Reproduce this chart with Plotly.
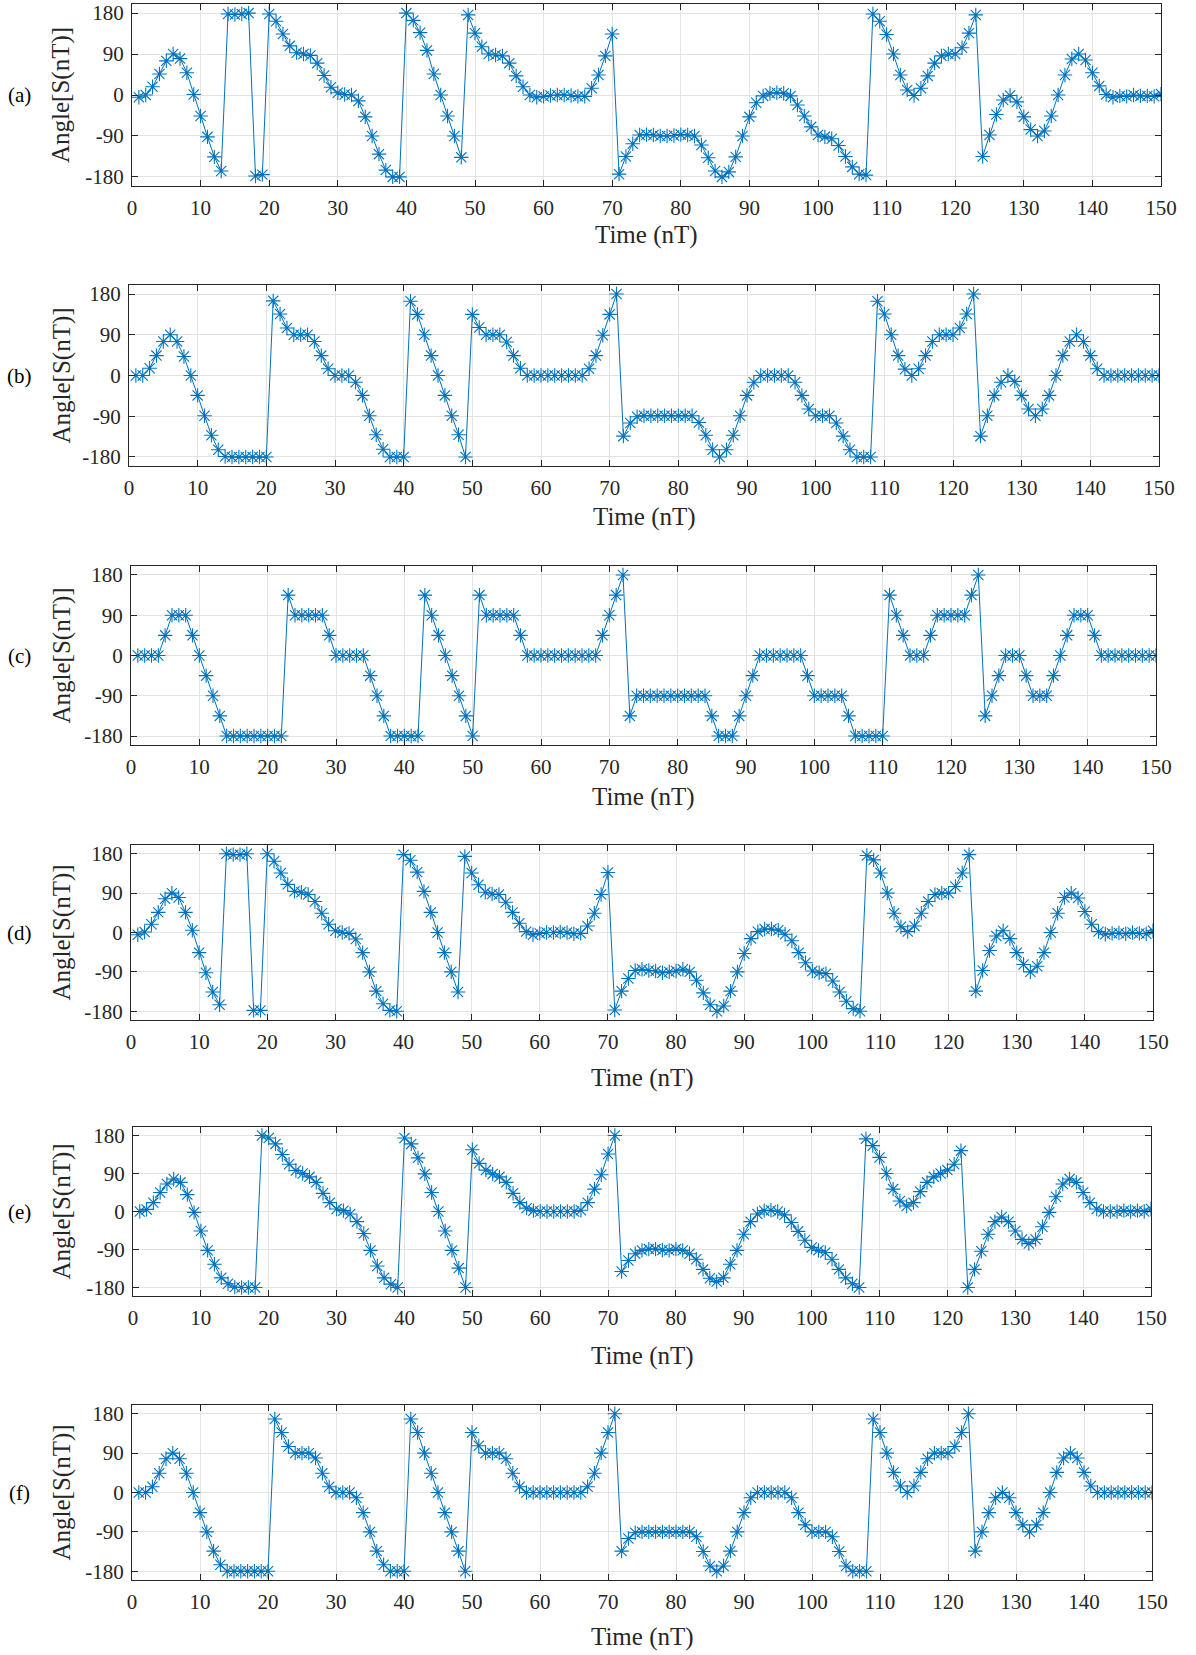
import plotly.graph_objects as go

# Sample index n = 1 .. 150
n = list(range(1, 151))

# Phase angle (degrees) of S(nT) for each case
angle_a = [
    -5, 0, 18, 46, 75, 90, 80, 49, 1, -46, -92, -136, -167, 178, 177, 178, 180, -178, -175, 178,
    162, 134, 108, 93, 90, 87, 70, 43, 17, 5, 1, 0, -13, -48, -90, -130, -165, -180, -180, 180,
    164, 137, 98, 46, 0, -46, -90, -137, 176, 136, 106, 90, 88, 86, 70, 42, 18, 0, -5, -3,
    -1, 0, 0, -1, -3, -3, 15, 44, 86, 134, -174, -135, -107, -88, -87, -88, -90, -90, -89, -87,
    -88, -90, -110, -138, -167, -180, -169, -136, -90, -48, -17, -2, 4, 5, 4, -2, -22, -46, -70, -88,
    -92, -96, -111, -135, -158, -174, -176, 178, 162, 133, 90, 44, 11, -1, 15, 42, 70, 86, 90, 90,
    104, 136, 176, -135, -88, -43, -11, -1, -15, -48, -76, -90, -79, -46, 0, 44, 79, 90, 77, 49,
    20, 1, -5, -2, -3, 0, -2, -2, -3, 2,
]

angle_b = [
    0, 0, 16, 44, 75, 90, 75, 42, 0, -44, -89, -132, -164, -179, -180, -180, -180, -180, -180, -180,
    165, 136, 105, 90, 90, 90, 75, 44, 15, 0, 0, 0, -15, -44, -89, -131, -163, -180, -180, -180,
    164, 135, 90, 44, 0, -44, -89, -131, -180, 135, 106, 90, 90, 90, 74, 44, 16, 0, 0, 0,
    0, 0, 0, 0, 0, 0, 15, 44, 89, 135, 180, -134, -105, -91, -89, -89, -89, -89, -89, -89,
    -89, -89, -104, -132, -164, -180, -164, -132, -89, -44, -15, 0, 0, 0, 0, 0, -15, -44, -74, -89,
    -89, -89, -105, -134, -164, -180, -180, -180, 164, 136, 90, 44, 14, 0, 15, 44, 75, 90, 90, 90,
    105, 136, 180, -134, -89, -44, -15, 0, -13, -44, -74, -89, -74, -44, 0, 44, 75, 90, 75, 44,
    15, 0, 0, 0, 0, 0, 0, 0, 0, 0,
]

angle_c = [
    0, 0, 0, 0, 45, 90, 90, 90, 45, 0, -45, -90, -135, -180, -180, -180, -180, -180, -180, -180,
    -180, -180, 135, 90, 90, 90, 90, 90, 45, 0, 0, 0, 0, 0, -45, -90, -135, -180, -180, -180,
    -180, -180, 135, 90, 45, 0, -45, -90, -135, -180, 135, 90, 90, 90, 90, 90, 45, 0, 0, 0,
    0, 0, 0, 0, 0, 0, 0, 0, 45, 90, 135, 180, -135, -90, -90, -90, -90, -90, -90, -90,
    -90, -90, -90, -90, -135, -180, -180, -180, -135, -90, -45, 0, 0, 0, 0, 0, 0, 0, -45, -90,
    -90, -90, -90, -90, -135, -180, -180, -180, -180, -180, 135, 90, 45, 0, 0, 0, 45, 90, 90, 90,
    90, 90, 135, 180, -135, -90, -45, 0, 0, 0, -45, -90, -90, -90, -45, 0, 45, 90, 90, 90,
    45, 0, 0, 0, 0, 0, 0, 0, 0, 0,
]

angle_d = [
    -5, 1, 19, 46, 77, 90, 80, 46, 5, -46, -92, -136, -165, 180, 178, 178, 180, -178, -178, 180,
    163, 136, 110, 94, 92, 87, 71, 44, 19, 4, 0, -2, -15, -46, -90, -134, -163, -178, -180, 178,
    165, 138, 94, 46, 0, -46, -90, -136, 174, 136, 109, 92, 88, 87, 69, 46, 21, 2, -5, -2,
    0, 0, 1, 0, -3, -2, 15, 44, 87, 137, -177, -134, -105, -87, -84, -87, -88, -92, -90, -88,
    -84, -90, -109, -138, -165, -180, -168, -134, -90, -48, -14, 2, 8, 8, 5, -4, -19, -46, -69, -88,
    -92, -94, -111, -136, -157, -174, -180, 176, 166, 136, 90, 44, 13, 2, 15, 44, 71, 87, 90, 90,
    105, 136, 178, -134, -87, -41, -8, 4, -14, -46, -73, -90, -77, -46, 0, 44, 80, 90, 79, 48,
    19, 2, -4, -2, -1, -3, 0, -2, -3, 4,
]

angle_e = [
    0, 5, 21, 45, 65, 77, 69, 40, -2, -46, -92, -125, -157, -171, -179, -180, -180, -180, 180, 174,
    160, 135, 112, 97, 90, 82, 69, 43, 21, 6, 2, -6, -24, -52, -92, -129, -157, -172, -180, 174,
    160, 127, 89, 45, 0, -46, -92, -134, -180, 146, 114, 98, 89, 82, 69, 43, 21, 8, 2, 0,
    0, 0, 0, 0, 0, 3, 21, 53, 87, 136, 180, -142, -116, -100, -92, -89, -89, -91, -92, -89,
    -92, -100, -113, -137, -158, -166, -157, -125, -92, -54, -24, -6, 2, 3, 0, -8, -26, -47, -68, -85,
    -92, -97, -113, -137, -157, -171, -180, 172, 156, 128, 90, 53, 25, 13, 21, 47, 69, 82, 90, 98,
    112, 144, -180, -137, -94, -54, -24, -13, -24, -46, -66, -76, -66, -36, -2, 35, 65, 77, 69, 45,
    21, 6, 0, 0, 0, 2, 0, 2, 0, 6,
]

angle_f = [
    0, 0, 13, 44, 77, 90, 77, 44, 0, -46, -90, -134, -165, -180, -180, -180, -180, -180, -180, -180,
    168, 137, 105, 90, 90, 90, 79, 44, 13, 0, 0, 0, -12, -46, -90, -134, -165, -180, -180, -180,
    168, 137, 90, 44, 0, -46, -90, -134, -180, 137, 107, 90, 90, 90, 77, 44, 13, 0, 0, 0,
    0, 0, 0, 0, 0, 0, 13, 44, 90, 137, 180, -134, -105, -92, -90, -90, -90, -90, -90, -90,
    -90, -90, -101, -135, -168, -180, -168, -134, -90, -46, -12, 0, 0, 0, 0, 0, -12, -46, -74, -90,
    -90, -90, -101, -135, -168, -180, -180, -180, 168, 137, 90, 46, 15, 0, 15, 46, 77, 90, 90, 90,
    105, 137, 180, -134, -90, -46, -12, 0, -12, -46, -74, -90, -74, -46, 0, 46, 79, 90, 79, 46,
    15, 0, 0, 0, 0, 0, 0, 0, 0, 0,
]

panel_tags = ["(a)", "(b)", "(c)", "(d)", "(e)", "(f)"]
x_ticks = list(range(0, 151, 10))
y_ticks = [-180, -90, 0, 90, 180]
y_tick_text = ["-180", "-90", "0", "90", "180"]

W, H = 1196, 1655
# plot boxes in pixels: (left, right, top, bottom), plus y of the x-axis title
boxes = [
    (132, 1161, 4, 186, 235),
    (129, 1159, 285, 466, 517),
    (131, 1156, 566, 745, 797),
    (131, 1153, 845, 1020, 1078),
    (133, 1151, 1127, 1296, 1356),
    (132, 1152, 1405, 1580, 1637),
]

series = [angle_a, angle_b, angle_c, angle_d, angle_e, angle_f]

BLUE = "#0072BD"
INK = "#262626"
FONT = "Liberation Serif"

fig = go.Figure()
layout = dict(
    width=W, height=H, autosize=False,
    margin=dict(l=0, r=0, t=0, b=0, pad=0),
    paper_bgcolor="white", plot_bgcolor="white",
    showlegend=False,
    font=dict(family=FONT, color=INK, size=21),
)
annotations = []

for i, (vals, tag, box) in enumerate(zip(series, panel_tags, boxes)):
    k = "" if i == 0 else str(i + 1)
    left, right, top, bottom, xt = box
    fig.add_trace(go.Scatter(
        x=n, y=vals, xaxis="x" + k, yaxis="y" + k,
        mode="lines+markers",
        line=dict(color=BLUE, width=1),
        marker=dict(symbol="asterisk-open", size=12, color=BLUE,
                    line=dict(color=BLUE, width=1.1)),
        hoverinfo="skip",
    ))
    common = dict(
        showline=True, linecolor=INK, linewidth=1, mirror="allticks",
        ticks="inside", ticklen=6, tickcolor=INK, tickwidth=1,
        showgrid=True, gridcolor="#e3e3e3", gridwidth=1, zeroline=False,
        tickfont=dict(family=FONT, size=21, color=INK),
        automargin=False,
    )
    layout["xaxis" + k] = dict(
        common, domain=[left / W, right / W], anchor="y" + k,
        range=[0, 150], tickvals=x_ticks, ticktext=[str(t) for t in x_ticks],
        ticklabelstandoff=3,
    )
    layout["yaxis" + k] = dict(
        common, domain=[1 - bottom / H, 1 - top / H], anchor="x" + k,
        range=[-200, 200], tickvals=y_ticks, ticktext=y_tick_text,
        ticklabelstandoff=3,
    )
    mid_y = 1 - (top + bottom) / 2 / H
    annotations.append(dict(
        text="Angle[S(nT)]", textangle=-90, xref="paper", yref="paper",
        x=61 / W, y=mid_y, xanchor="center", yanchor="middle", showarrow=False,
        font=dict(family=FONT, size=25, color=INK),
    ))
    annotations.append(dict(
        text=tag, xref="paper", yref="paper",
        x=19 / W, y=mid_y, xanchor="center", yanchor="middle", showarrow=False,
        font=dict(family=FONT, size=21, color="black"),
    ))
    annotations.append(dict(
        text="Time (nT)", xref="paper", yref="paper",
        x=(left + right) / 2 / W, y=1 - xt / H, xanchor="center", yanchor="middle",
        showarrow=False, font=dict(family=FONT, size=25, color=INK),
    ))

layout["annotations"] = annotations
fig.update_layout(**layout)

# page styling: no body margin, no scrollbars, fixed-size figure
page_css = (
    "document.documentElement.style.overflow='hidden';"
    "document.body.style.margin='0';"
    "document.body.style.overflow='hidden';"
)
fig.write_html("out.html", config={"responsive": False}, post_script=page_css)
